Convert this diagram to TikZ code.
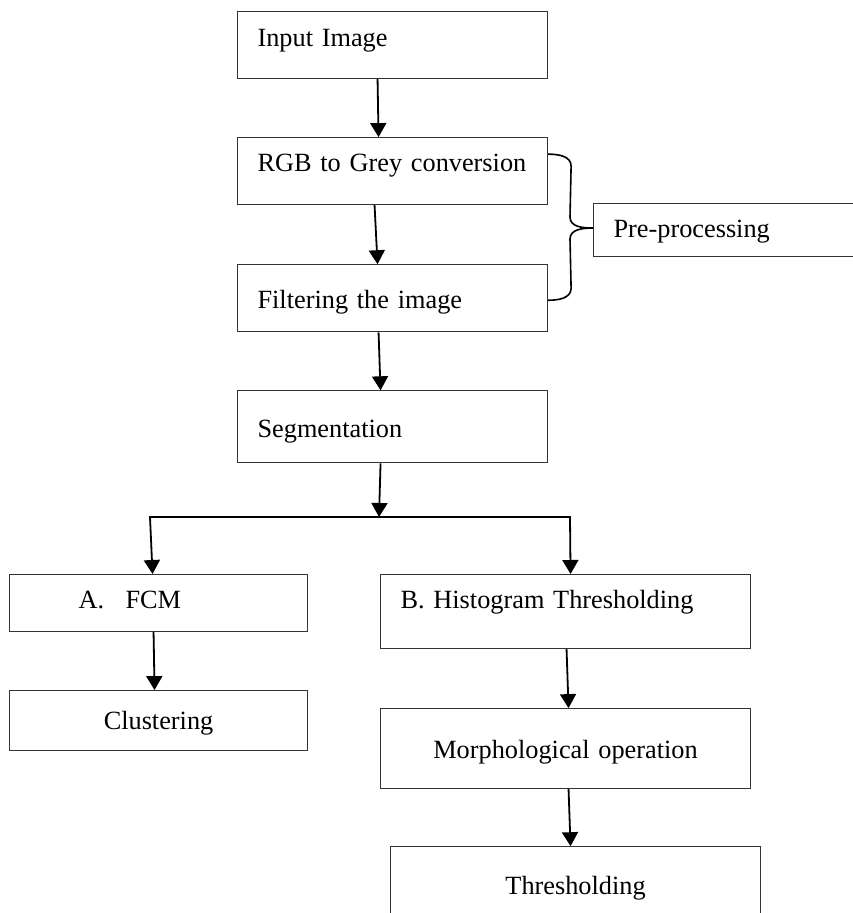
\documentclass[tikz,border=0pt]{standalone}
\usepackage{fontspec}
\setmainfont{Liberation Serif}
\usepackage{tikz}
\usetikzlibrary{positioning}
\usetikzlibrary{arrows.meta}

\tikzset{
    box/.style={draw=black!80, line width=1.1pt, rectangle, inner xsep=20pt, inner ysep=0pt, text height=22pt},
    stack/.style={box, text width=270pt, align=left},
    wide/.style={box, text width=330pt},
    narrow/.style={box, text width=258pt},
    arr/.style={line width=1.8pt, -{Triangle[width=16pt,length=14pt]}},
    ln/.style={line width=1.8pt, line cap=rect},
    brc/.style={line width=1.6pt},
}

\begin{document}
\begin{tikzpicture}[x=1pt, y=-1pt, font=\fontsize{26.3pt}{31pt}\selectfont, node distance=58pt]
    \useasboundingbox (0,0) rectangle (853,913);

    \node[stack, anchor=north west, minimum height=67pt, text depth=19pt] (input) at (237,11) {Input Image};
    \node[stack, below=of input, minimum height=67pt, text depth=21pt] (rgb) {RGB to Grey conversion};
    \node[stack, below=59pt of rgb, minimum height=67pt, text depth=1pt] (filter) {Filtering the image};
    \node[stack, below=of filter, minimum height=72pt, text depth=1pt] (seg) {Segmentation};
    \node[box, text width=250pt, align=left, anchor=north west, minimum height=53pt, text depth=7pt] (pre) at (593,203) {Pre-processing};
    \node[narrow, inner xsep=69pt, text width=160pt, align=left, anchor=north west, minimum height=57pt, text depth=11pt] (fcm) at (9,574) {\makebox[47pt][l]{A.}FCM};
    \node[narrow, align=center, below=of fcm, minimum height=60pt, text depth=4pt] (clust) {Clustering};
    \node[wide, align=left, anchor=north west, minimum height=74pt, text depth=28pt] (hist) at (380,574) {B. Histogram Thresholding};
    \node[wide, align=center, below=59pt of hist, minimum height=80pt, text depth=2pt] (morph) {Morphological operation};
    \node[wide, align=center, below=57pt of morph, xshift=10pt, minimum height=80pt, text depth=6pt] (thresh) {Thresholding};

    \coordinate (jl) at (150,517);
    \coordinate (jm) at (379,517);
    \coordinate (jr) at (570,517);

    % Connect the nodes
    \draw[arr] ([xshift=-15pt]input.south) -- ([xshift=-14pt]rgb.north) ; %
    \draw[arr] ([xshift=-18pt]rgb.south) -- ([xshift=-15pt]filter.north) ; %
    \draw[arr] ([xshift=-14pt]filter.south) -- ([xshift=-12pt]seg.north) ; %
    \draw[arr] ([xshift=-12pt]seg.south) -- (jm) ; %
    \draw[ln] (jl) -- (jr) ; %
    \draw[arr] (jl) -- ([xshift=-6pt]fcm.north) ; %
    \draw[arr] (jr) -- ([xshift=5pt]hist.north) ; %
    \draw[arr] ([xshift=-5pt]fcm.south) -- ([xshift=-4pt]clust.north) ; %
    \draw[arr] ([xshift=1pt]hist.south) -- ([xshift=3pt]morph.north) ; %
    \draw[arr] ([xshift=3pt]morph.south) -- ([xshift=-5pt]thresh.north) ; %

    % Brace to the pre-processing box
    \draw[brc] ([yshift=17pt]rgb.east) to[out=0,in=90] ++(23,12)
        -- ([xshift=-23pt,yshift=13pt]pre.west) to[out=-90,in=180] ([yshift=2pt]pre.west)
        to[out=180,in=90] ([xshift=-23pt,yshift=-9pt]pre.west)
        -- ([xshift=23pt,yshift=10pt]filter.east) to[out=-90,in=0] ([yshift=-2pt]filter.east) ; %
\end{tikzpicture}
\end{document}
